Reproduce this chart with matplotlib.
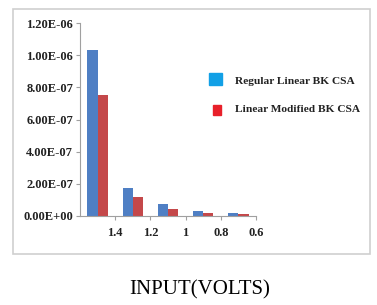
import numpy as np
import matplotlib.pyplot as plt
from matplotlib.patches import Rectangle

# values
voltages = ['1.4', '1.2', '1', '0.8', '0.6']
regular = [1.03e-6, 1.77e-7, 7.4e-8, 3.0e-8, 1.8e-8]
modified = [7.5e-7, 1.16e-7, 4.3e-8, 2.0e-8, 1.2e-8]
series_names = ['Regular Linear BK CSA', 'Linear Modified BK CSA']

W, H = 377, 305
fig = plt.figure(figsize=(W / 100, H / 100), dpi=100)
plt.rcParams['font.family'] = ['Liberation Serif', 'DejaVu Serif']

# light grey frame around the chart area
fig.patches.append(Rectangle((13 / W, 1 - 254 / H), (370 - 13) / W, (254 - 9) / H,
                             transform=fig.transFigure, fill=False,
                             edgecolor='#cfcfcf', linewidth=1.2))

ax = fig.add_axes([80 / W, 1 - 216 / H, (256 - 80) / W, (216 - 23) / H])
x = np.arange(len(voltages))
bw = 0.29
ax.bar(x - bw / 2, regular, bw, color='#4f7fc4', edgecolor='none')
ax.bar(x + bw / 2, modified, bw, color='#c4484a', edgecolor='none')

ax.set_xlim(-0.5, len(voltages) - 0.5)
ax.set_ylim(0, 1.2e-6)
yt = np.arange(0, 1.21e-6, 2e-7)
ax.set_yticks(yt)
ax.set_yticklabels([f'{v:.2E}' for v in yt], fontsize=9, fontweight='bold')
ax.set_xticks(x + 0.5)
ax.set_xticklabels(voltages, fontsize=9, fontweight='bold')

for s in ['top', 'right']:
    ax.spines[s].set_visible(False)
for s in ['left', 'bottom']:
    ax.spines[s].set_color('#a0a0a0')
ax.tick_params(axis='both', colors='#a0a0a0', labelcolor='#222222', length=3, pad=2)
ax.tick_params(axis='x', pad=5)

# legend drawn as squares and text
fig.patches.append(Rectangle((209 / W, 1 - 85 / H), 13 / W, 12 / H,
                             transform=fig.transFigure, color='#12a0e6'))
fig.patches.append(Rectangle((213 / W, 1 - 115 / H), 8 / W, 10 / H,
                             transform=fig.transFigure, color='#e8202a'))
fig.text(235 / W, 1 - 81 / H, series_names[0], fontsize=8.2, fontweight='bold',
         va='center', ha='left', color='#222222')
fig.text(235 / W, 1 - 110 / H, series_names[1], fontsize=8.2, fontweight='bold',
         va='center', ha='left', color='#222222')

fig.text(200 / W, 1 - 290 / H, 'INPUT(VOLTS)', fontsize=15, ha='center', va='center')

fig.savefig('out.png', dpi=100, facecolor='white')
